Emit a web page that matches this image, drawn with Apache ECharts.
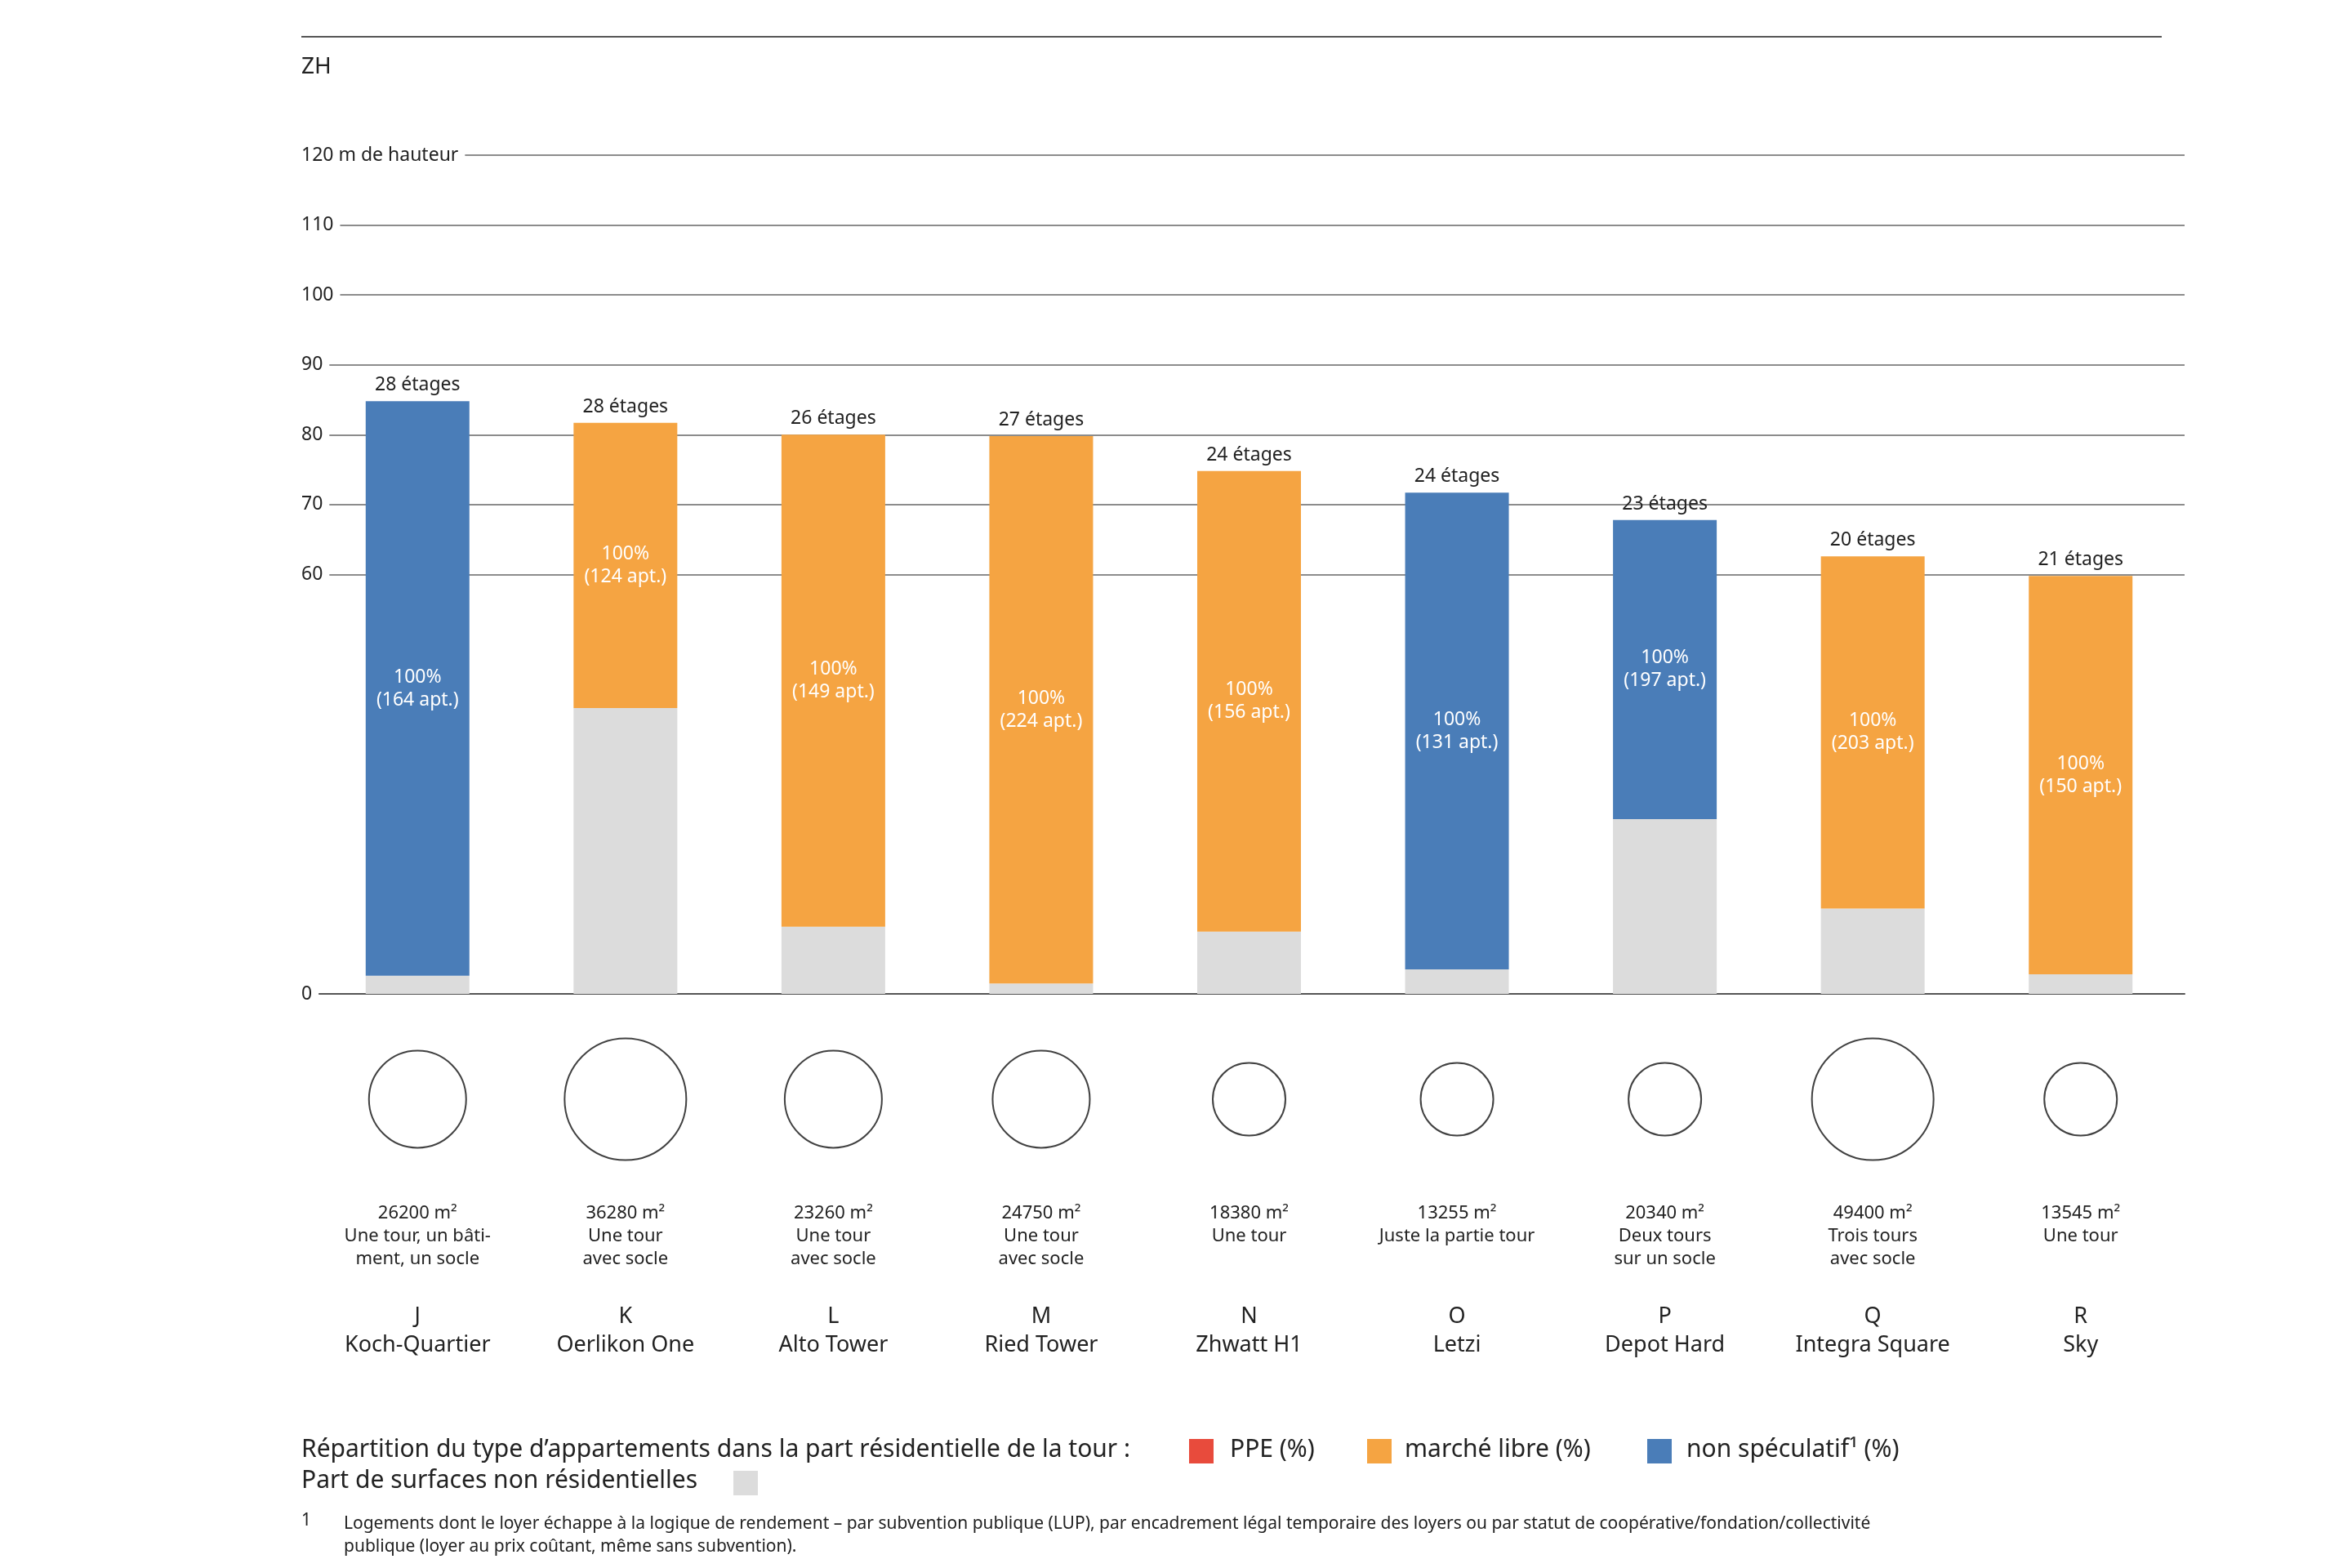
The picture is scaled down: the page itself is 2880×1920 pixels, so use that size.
<!DOCTYPE html>
<html>
<head>
<meta charset="utf-8">
<script src="https://cdn.jsdelivr.net/npm/echarts@6/dist/echarts.min.js"></script>
</head>
<body style="margin:0;background:#fff">
<div id="main" style="width:2880px;height:1920px;"></div>
<script type="text/javascript">
var letters = ['J','K','L','M','N','O','P','Q','R'];
var names = ['Koch-Quartier','Oerlikon One','Alto Tower','Ried Tower','Zhwatt H1','Letzi','Depot Hard','Integra Square','Sky'];
var totalHeight = [84.8, 81.7, 80.0, 79.8, 74.8, 71.7, 67.8, 62.6, 59.8];
var nonResidential = [2.6, 40.9, 9.6, 1.5, 8.9, 3.5, 25.0, 12.2, 2.8];
var kind = ['blue','orange','orange','orange','orange','blue','blue','orange','orange'];
var floors = [28, 28, 26, 27, 24, 24, 23, 20, 21];
var apartments = [164, 124, 149, 224, 156, 131, 197, 203, 150];
var areas = ['26200 m²','36280 m²','23260 m²','24750 m²','18380 m²','13255 m²','20340 m²','49400 m²','13545 m²'];
var desc1 = ['Une tour, un bâti-','Une tour','Une tour','Une tour','Une tour','Juste la partie tour','Deux tours','Trois tours','Une tour'];
var desc2 = ['ment, un socle','avec socle','avec socle','avec socle',' ',' ','sur un socle','avec socle',' '];
var circleSize = [119, 149, 119, 119, 89, 89, 89, 149, 89];

var BLUE = '#4a7db8', ORANGE = '#f5a442', GRAY = '#dcdcdc', RED = '#e84b3c', TXT = '#222';
var FONT = 'Noto Sans';

var orangeVals = [], blueVals = [];
for (var i = 0; i < letters.length; i++) {
  var r = +(totalHeight[i] - nonResidential[i]).toFixed(1);
  orangeVals.push(kind[i] === 'orange' ? r : 0);
  blueVals.push(kind[i] === 'blue' ? r : 0);
}
var lineColors = [];
for (var k = 0; k <= 12; k++) lineColors.push(k >= 6 ? '#666' : 'rgba(0,0,0,0)');

function pctLabel(p) {
  return p.value > 0 ? '100%\n(' + apartments[p.dataIndex] + ' apt.)' : '';
}
function topLabel(p) {
  return floors[p.dataIndex] + ' étages';
}

var myChart = echarts.init(document.getElementById('main'));
var option = {
  animation: false,
  textStyle: {fontFamily: FONT},
  grid: [
    {left: 384, right: 205, top: 190, bottom: 703},
    {left: 384, right: 205, top: 1250, height: 192}
  ],
  xAxis: [
    {gridIndex: 0, type: 'category', data: letters,
     axisLine: {lineStyle: {color: '#555', width: 2}}, axisTick: {show: false}, axisLabel: {show: false}},
    {gridIndex: 1, type: 'category', data: letters,
     axisLine: {show: false}, axisTick: {show: false},
     axisLabel: {
       margin: 30,
       formatter: function (v, i) {
         return '{s|' + areas[i] + '}\n{s|' + desc1[i] + '}\n{s|' + desc2[i] + '}\n{g| }\n{b|' + v + '}\n{b|' + names[i] + '}';
       },
       rich: {
         s: {fontSize: 22, lineHeight: 28, color: TXT, fontFamily: FONT},
         g: {fontSize: 10, lineHeight: 39},
         b: {fontSize: 27, lineHeight: 35, color: TXT, fontFamily: FONT}
       }
     }}
  ],
  yAxis: [
    {gridIndex: 0, type: 'value', min: 0, max: 120, interval: 10,
     axisLine: {show: false}, axisTick: {show: false},
     splitLine: {show: true, lineStyle: {color: lineColors, width: 1.5}},
     axisLabel: {
       align: 'left', margin: 15, color: TXT, fontSize: 23,
       backgroundColor: '#fff', padding: [0, 8, 0, 0],
       formatter: function (v) {
         if (v === 120) return '120 m de hauteur';
         if (v === 0 || v >= 60) return String(v);
         return '';
       }
     }},
    {gridIndex: 1, type: 'value', min: 0, max: 1, show: false}
  ],
  series: [
    {name: 'non résidentiel', type: 'bar', stack: 'h', data: nonResidential, barWidth: 127,
     itemStyle: {color: GRAY}},
    {name: 'marché libre', type: 'bar', stack: 'h', data: orangeVals, itemStyle: {color: ORANGE},
     label: {show: true, position: 'inside', color: '#fff', fontSize: 23, lineHeight: 28, formatter: pctLabel}},
    {name: 'non spéculatif', type: 'bar', stack: 'h', data: blueVals, itemStyle: {color: BLUE},
     label: {show: true, position: 'inside', color: '#fff', fontSize: 23, lineHeight: 28, formatter: pctLabel}},
    {name: 'top', type: 'bar', stack: 'h', data: letters.map(function () { return 0; }),
     label: {show: true, position: 'top', distance: 8, color: TXT, fontSize: 23, formatter: topLabel}},
    {name: 'surface', type: 'scatter', xAxisIndex: 1, yAxisIndex: 1,
     data: letters.map(function () { return 0.5; }),
     symbolSize: function (v, p) { return circleSize[p.dataIndex]; },
     itemStyle: {color: '#fff', borderColor: '#111', borderWidth: 2}}
  ],
  graphic: [
    {type: 'line', shape: {x1: 369, y1: 45, x2: 2647, y2: 45}, style: {stroke: '#555', lineWidth: 2}},
    {type: 'text', left: 369, top: 68, style: {text: 'ZH', fontSize: 28, fill: TXT, fontFamily: FONT}},
    {type: 'text', left: 369, top: 1760, style: {text: 'Répartition du type d’appartements dans la part résidentielle de la tour :', fontSize: 30, fill: TXT, fontFamily: FONT}},
    {type: 'rect', shape: {x: 1456, y: 1762, width: 30, height: 30}, style: {fill: RED}},
    {type: 'text', left: 1506, top: 1760, style: {text: 'PPE (%)', fontSize: 30, fill: TXT, fontFamily: FONT}},
    {type: 'rect', shape: {x: 1674, y: 1762, width: 30, height: 30}, style: {fill: ORANGE}},
    {type: 'text', left: 1720, top: 1760, style: {text: 'marché libre (%)', fontSize: 30, fill: TXT, fontFamily: FONT}},
    {type: 'rect', shape: {x: 2017, y: 1762, width: 30, height: 30}, style: {fill: BLUE}},
    {type: 'text', left: 2065, top: 1760, style: {text: 'non spéculatif¹ (%)', fontSize: 30, fill: TXT, fontFamily: FONT}},
    {type: 'text', left: 369, top: 1798, style: {text: 'Part de surfaces non résidentielles', fontSize: 30, fill: TXT, fontFamily: FONT}},
    {type: 'rect', shape: {x: 898, y: 1801, width: 30, height: 30}, style: {fill: GRAY}},
    {type: 'text', left: 369, top: 1852, style: {text: '1', fontSize: 21, fill: TXT, fontFamily: FONT}},
    {type: 'text', left: 421, top: 1852, style: {text: 'Logements dont le loyer échappe à la logique de rendement – par subvention publique (LUP), par encadrement légal temporaire des loyers ou par statut de coopérative/fondation/collectivité\npublique (loyer au prix coûtant, même sans subvention).', fontSize: 21, lineHeight: 28, fill: TXT, fontFamily: FONT}}
  ]
};
myChart.setOption(option);
</script>
</body>
</html>
